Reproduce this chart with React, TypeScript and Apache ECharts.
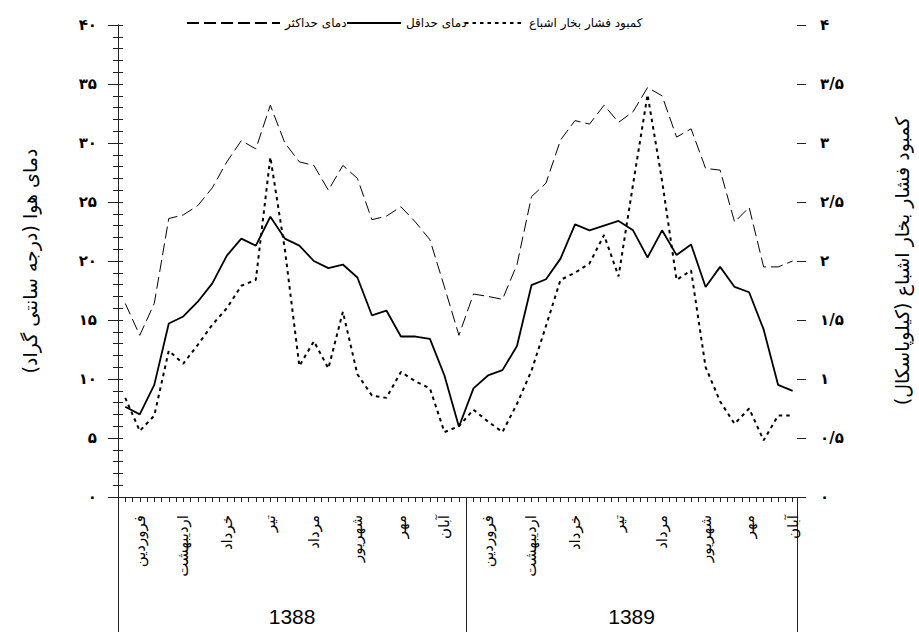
import { useEffect, useRef } from 'react';
import * as echarts from 'echarts';

// ---- data ----
const months = ['فروردین', 'اردیبهشت', 'خرداد', 'تیر', 'مرداد', 'شهریور', 'مهر', 'آبان'];
const years = ['1388', '1389'];
const decadesPerMonth = 3;
const decadesPerYear = 24;

const maxTemp1388 = [16.4, 13.7, 16.4, 23.6, 23.9, 24.7, 26.2, 28.4, 30.2, 29.5, 33.2, 30.0, 28.4, 28.1, 26.0, 28.1, 27.0, 23.5, 23.8, 24.6, 23.3, 21.8, 17.8, 13.7];
const maxTemp1389 = [17.2, 17.0, 16.75, 19.7, 25.45, 26.6, 30.25, 31.9, 31.6, 33.2, 31.75, 32.65, 34.7, 34.0, 30.5, 31.2, 27.85, 27.7, 23.3, 24.55, 19.5, 19.5, 20.0];
const minTemp1388 = [7.65, 7.0, 9.5, 14.7, 15.3, 16.55, 18.1, 20.45, 21.9, 21.3, 23.75, 21.9, 21.3, 20.0, 19.4, 19.7, 18.6, 15.4, 15.8, 13.6, 13.6, 13.4, 10.3, 5.95];
const minTemp1389 = [9.2, 10.3, 10.75, 12.8, 17.95, 18.45, 20.2, 23.1, 22.6, 23.0, 23.4, 22.6, 20.3, 22.6, 20.5, 21.4, 17.8, 19.5, 17.8, 17.35, 14.2, 9.5, 9.0];
const vpd1388 = [0.84, 0.56, 0.69, 1.24, 1.13, 1.29, 1.46, 1.6, 1.79, 1.84, 2.88, 2.1, 1.11, 1.32, 1.09, 1.57, 1.04, 0.86, 0.84, 1.06, 0.98, 0.92, 0.55, 0.6];
const vpd1389 = [0.74, 0.64, 0.55, 0.79, 1.07, 1.45, 1.84, 1.9, 1.98, 2.22, 1.87, 2.65, 3.41, 2.68, 1.84, 1.92, 1.1, 0.81, 0.62, 0.75, 0.48, 0.69, 0.69];

const leftTickLabels = ['۰', '۵', '۱۰', '۱۵', '۲۰', '۲۵', '۳۰', '۳۵', '۴۰'];
const rightTickLabels = ['۰', '۰/۵', '۱', '۱/۵', '۲', '۲/۵', '۳', '۳/۵', '۴'];

const seriesNames = ['دمای حداکثر', 'دمای حداقل', 'کمبود فشار بخار اشباع'];
const leftAxisName = 'دمای هوا (درجه سانتی گراد)\u200F';
const rightAxisName = 'کمبود فشار بخار اشباع (کیلوپاسکال)\u200F';

const X_MAX = 46.8; // axis extent in ten-day periods

const toPoints = (a: number[], b: number[]) => [
  ...a.map((v, i) => [i + 0.5, v]),
  ...b.map((v, i) => [decadesPerYear + i + 0.5, v]),
];

const monthCenters = years.flatMap((_, y) =>
  months.map((_, m) => y * decadesPerYear + m * decadesPerMonth + decadesPerMonth / 2)
);
const yearCenters = [decadesPerYear / 2, (decadesPerYear + X_MAX) / 2];

const FA = 'DejaVu Sans';
const AX = '#222';

export default function App() {
  const ref = useRef<HTMLDivElement>(null);
  useEffect(() => {
    if (!ref.current) return;
    const chart = echarts.init(ref.current, undefined, { renderer: 'svg' });
    const tickLine = { color: AX, width: 1 };
    const legendBase = {
      top: 12, itemHeight: 14, itemGap: 0,
      itemStyle: { opacity: 0, color: 'transparent', borderColor: 'transparent', borderWidth: 0 },
      textStyle: { fontFamily: FA, fontSize: 12, color: '#000' },
    };
    const option: any = {
      animation: false,
      backgroundColor: '#fff',
      grid: { left: 118, right: 118, top: 25, bottom: 135 },
      legend: [
        { ...legendBase, data: [seriesNames[0]], left: 181, itemWidth: 93 },
        { ...legendBase, data: [seriesNames[1]], left: 341, itemWidth: 54 },
        { ...legendBase, data: [seriesNames[2]], left: 459, itemWidth: 59 },
      ],
      xAxis: [
        {
          type: 'value', position: 'bottom', min: 0, max: X_MAX, interval: 0.5,
          axisLine: { show: true, onZero: false, lineStyle: tickLine },
          axisTick: { show: true, length: 5, lineStyle: tickLine },
          axisLabel: { show: false }, splitLine: { show: false },
        },
        {
          type: 'value', position: 'bottom', min: 0, max: X_MAX,
          axisLine: { show: false },
          axisTick: { show: true, customValues: [0, decadesPerYear, X_MAX], length: 135, lineStyle: tickLine },
          axisLabel: {
            show: true, customValues: monthCenters, rotate: 90, margin: 18,
            formatter: (v: number) => months[Math.floor((v % decadesPerYear) / decadesPerMonth)],
            fontFamily: FA, fontSize: 15, color: '#000',
          },
          splitLine: { show: false },
        },
        {
          type: 'value', position: 'bottom', min: 0, max: X_MAX,
          axisLine: { show: false }, axisTick: { show: false },
          axisLabel: {
            show: true, customValues: yearCenters, margin: 109,
            formatter: (v: number) => years[v < decadesPerYear ? 0 : 1],
            fontFamily: 'Liberation Sans', fontSize: 21, color: '#000',
          },
          splitLine: { show: false },
        },
      ],
      yAxis: [
        {
          type: 'value', position: 'left', min: 0, max: 40, interval: 5,
          axisLine: { show: true, lineStyle: tickLine },
          axisTick: { show: true, inside: true, length: 5, lineStyle: tickLine },
          minorTick: { show: true, splitNumber: 5, length: 5, lineStyle: tickLine },
          axisLabel: {
            margin: 21, fontFamily: FA, fontWeight: 'bold', fontSize: 15, color: '#000',
            formatter: (v: number) => leftTickLabels[Math.round(v / 5)],
          },
          splitLine: { show: false },
          name: leftAxisName, nameLocation: 'middle', nameRotate: 90, nameGap: 79,
          nameTextStyle: { fontFamily: FA, fontSize: 19, color: '#000' },
        },
        {
          type: 'value', position: 'right', min: 0, max: 4, interval: 0.5,
          axisLine: { show: true, lineStyle: tickLine },
          axisTick: { show: true, inside: true, length: 9, lineStyle: tickLine },
          minorTick: { show: true, splitNumber: 5, length: 5, lineStyle: tickLine },
          axisLabel: {
            margin: 23, fontFamily: FA, fontWeight: 'bold', fontSize: 15, color: '#000',
            formatter: (v: number) => rightTickLabels[Math.round(v / 0.5)],
          },
          splitLine: { show: false },
          name: rightAxisName, nameLocation: 'middle', nameRotate: 90, nameGap: 95,
          nameTextStyle: { fontFamily: FA, fontSize: 19, color: '#000' },
        },
        {
          type: 'value', position: 'left', min: 0, max: 40, interval: 5,
          axisLine: { show: false },
          axisTick: { show: true, inside: false, length: 10, lineStyle: tickLine },
          axisLabel: { show: false }, splitLine: { show: false },
        },
        {
          type: 'value', position: 'right', min: 0, max: 4, interval: 0.5,
          axisLine: { show: false },
          axisTick: { show: true, inside: false, length: 9, lineStyle: tickLine },
          axisLabel: { show: false }, splitLine: { show: false },
        },
      ],
      series: [
        {
          name: seriesNames[0], type: 'line', xAxisIndex: 0, yAxisIndex: 0, symbol: 'none',
          data: toPoints(maxTemp1388, maxTemp1389),
          itemStyle: { color: '#000' },
          lineStyle: { color: '#000', width: 1, type: [12, 5] },
        },
        {
          name: seriesNames[1], type: 'line', xAxisIndex: 0, yAxisIndex: 0, symbol: 'none',
          data: toPoints(minTemp1388, minTemp1389),
          itemStyle: { color: '#000' },
          lineStyle: { color: '#000', width: 1.8, type: 'solid' },
        },
        {
          name: seriesNames[2], type: 'line', xAxisIndex: 0, yAxisIndex: 1, symbol: 'none',
          data: toPoints(vpd1388, vpd1389),
          itemStyle: { color: '#000' },
          lineStyle: { color: '#000', width: 2, type: [3.5, 4] },
        },
      ],
    };
    chart.setOption(option);
    return () => chart.dispose();
  }, []);
  return (
    <div
      ref={ref}
      style={{ position: 'fixed', left: 0, top: 0, width: 919, height: 632, background: '#fff' }}
    />
  );
}
